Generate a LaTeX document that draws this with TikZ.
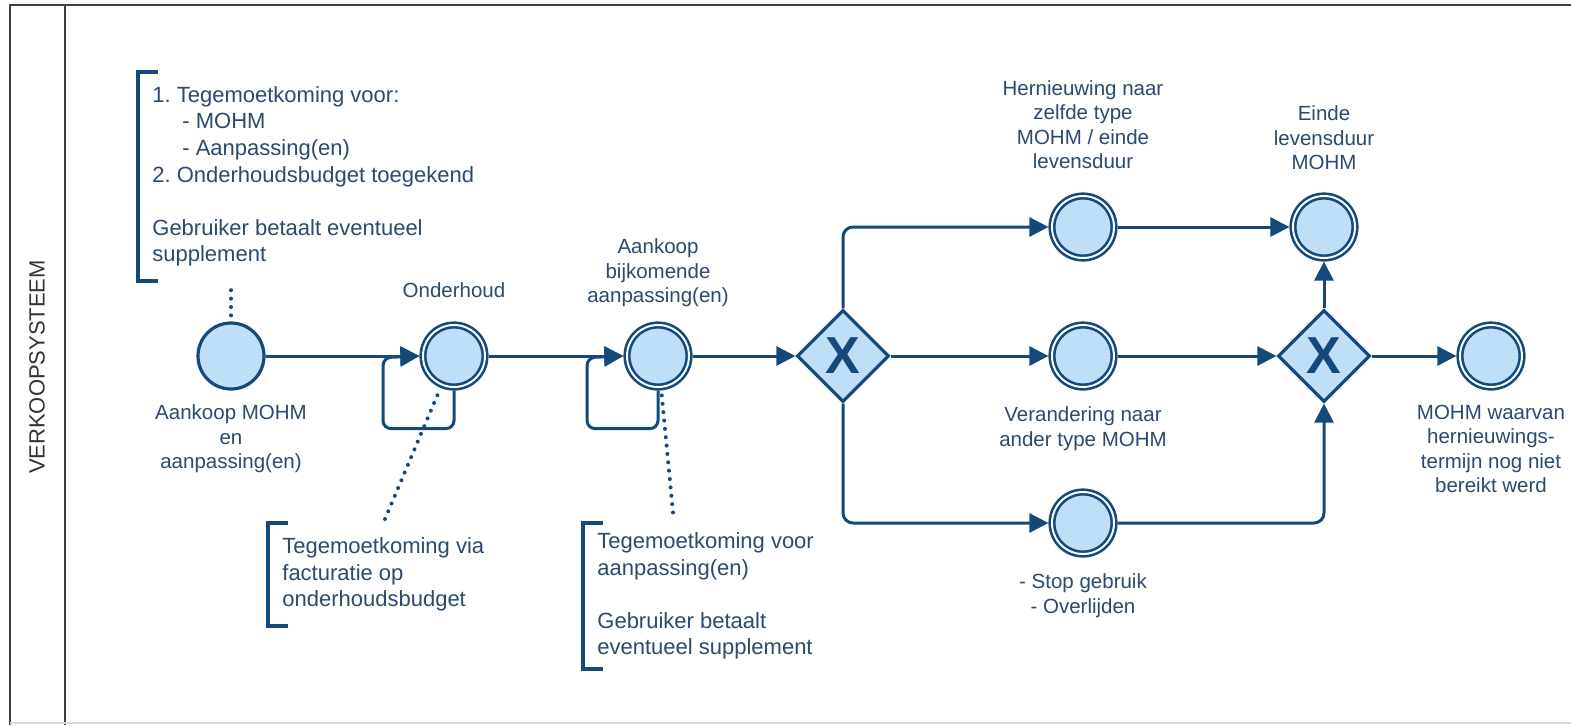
\documentclass[tikz,border=0pt]{standalone}
\usepackage{fontspec}
\setmainfont{Liberation Sans}
\usepackage{xcolor}
\usetikzlibrary{arrows.meta,positioning,shapes.geometric}
\frenchspacing

\definecolor{bpmnline}{HTML}{14497B}
\definecolor{bpmnfill}{HTML}{BFDFF8}
\definecolor{bpmntext}{HTML}{2C4A6E}

\begin{document}
\begin{tikzpicture}[
    x=0.5pt, y=-0.5pt,
    startev/.style={circle, on grid, draw=bpmnline, fill=bpmnfill, line width=1.6pt, minimum size=33pt, inner sep=0pt},
    interev/.style={circle, on grid, draw=bpmnline, fill=bpmnfill, line width=1.3pt, double=white, double distance=1pt, minimum size=31pt, inner sep=0pt, outer sep=1.8pt},
    gateway/.style={diamond, on grid, draw=bpmnline, fill=bpmnfill, line width=1.6pt, minimum size=46pt, inner sep=0pt, text=bpmnline, font=\fontsize{26}{26}\selectfont\bfseries},
    lbl/.style={align=center, inner sep=0pt, text=bpmntext, font=\fontsize{10.25}{12.25}\selectfont},
    note/.style={anchor=north west, align=left, inner xsep=7pt, inner ysep=0pt, text=bpmntext, font=\fontsize{11}{13.3}\selectfont},
    brk/.style={draw=bpmnline, line width=1.9pt},
    arrow/.style={-{Triangle[length=9.5pt,width=9.5pt]}, line width=1.5pt, draw=bpmnline},
    assoc/.style={draw=bpmnline, line width=2pt, line cap=round, dash pattern=on 0pt off 4.2pt},
    pool/.style={draw=black!75, line width=1pt}
]
\useasboundingbox[fill=white] (0,0) rectangle (1571,725);

% pool and lane
\draw[pool] (1571,5) -- (10,5) -- (10,725);
\draw[pool] (65,5) -- (65,725);
\draw[black!15, line width=1pt] (10,723) -- (1571,723);
\node[rotate=90, text=black!80, font=\fontsize{11}{13}\selectfont] (lane) at (37,367) {VERKOOPSYSTEEM};

% events and gateways
\node[startev] (start) at (231,356) {};
\node[interev, right=111.5pt of start] (ond) {};
\node[interev, right=102pt of ond] (aank) {};
\node[gateway, right=92.5pt of aank] (gw1) {X};
\node[interev, right=120pt of gw1] (mid) {};
\node[interev, above=64.5pt of mid] (top) {};
\node[interev, below=83.5pt of mid] (bot) {};
\node[gateway, right=120.5pt of mid] (gw2) {X};
\node[interev, above=64.5pt of gw2] (einde) {};
\node[interev, right=83.5pt of gw2] (final) {};

% labels
\node[lbl, below=7pt of start] (startlbl) {Aankoop MOHM\\en\\aanpassing(en)};
\node[lbl, above=11.5pt of ond] (ondlbl) {Onderhoud};
\node[lbl, above=7pt of aank] (aanklbl) {Aankoop\\bijkomende\\aanpassing(en)};
\node[lbl, above=11.5pt of top] (toplbl) {Hernieuwing naar\\zelfde type\\MOHM / einde\\levensduur};
\node[lbl, above=11pt of einde] (eindelbl) {Einde\\levensduur\\MOHM};
\node[lbl, below=8pt of mid] (midlbl) {Verandering naar\\ander type MOHM};
\node[lbl, below=8pt of bot] (botlbl) {- Stop gebruik\\- Overlijden};
\node[lbl, below=7pt of final] (finallbl) {MOHM waarvan\\hernieuwings-\\termijn nog niet\\bereikt werd};

% annotations
\node[note, minimum height=104pt] (note1) at (138,72) {1. Tegemoetkoming voor:\\\hspace*{15pt}- MOHM\\\hspace*{15pt}- Aanpassing(en)\\2. Onderhoudsbudget toegekend\\[13.3pt]Gebruiker betaalt eventueel\\supplement};
\node[note, minimum height=51pt] (note2) at (268,523) {Tegemoetkoming via\\facturatie op\\onderhoudsbudget};
\node[note, minimum height=72.5pt] (note3) at (583,523) {Tegemoetkoming voor\\aanpassing(en)\\[13.3pt]Gebruiker betaalt\\eventueel supplement};

\draw[brk] ([xshift=10pt]note1.north west) -- (note1.north west) -- (note1.south west) -- ++(20,0);
\draw[brk] ([xshift=10pt]note2.north west) -- (note2.north west) -- (note2.south west) -- ++(20,0);
\draw[brk] ([xshift=10pt]note3.north west) -- (note3.north west) -- (note3.south west) -- ++(20,0);

\draw[assoc, shorten <=3pt, shorten >=2.5pt] (start) -- (start |- note1.south);
\draw[assoc, shorten <=4pt, shorten >=1.5pt] (ond) -- (note2.north);
\draw[assoc, shorten <=2.5pt, shorten >=2pt] (aank) -- ([xshift=45.5pt]note3.north west);

% sequence flows
\draw[arrow] (start) -- (ond);
\draw[arrow, rounded corners=4pt] (ond.south) -- ++(0,38) -- ++(-71,0) -- ++(0,-71) -- (ond.west);
\draw[arrow] (ond) -- (aank);
\draw[arrow, rounded corners=4pt] (aank.south) -- ++(0,38) -- ++(-71,0) -- ++(0,-71) -- (aank.west);
\draw[arrow] (aank) -- (gw1);
\draw[arrow, rounded corners=5pt] (gw1.north) |- (top.west);
\draw[arrow] (gw1) -- (mid);
\draw[arrow, rounded corners=5pt] (gw1.south) |- (bot.west);
\draw[arrow] (top) -- (einde);
\draw[arrow] (mid) -- (gw2);
\draw[arrow, rounded corners=5pt] (bot.east) -| (gw2.south);
\draw[arrow] (gw2) -- (einde);
\draw[arrow] (gw2) -- (final);

\end{tikzpicture}
\end{document}
